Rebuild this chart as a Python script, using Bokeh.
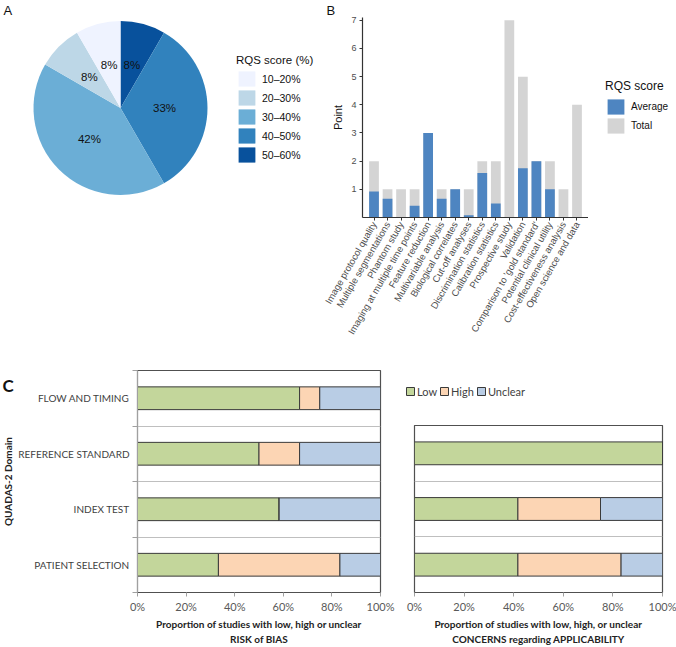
import math
from bokeh.plotting import figure
from bokeh.layouts import column, row
from bokeh.models import (Range1d, FactorRange, Legend, LegendItem, Label, Title,
                          FixedTicker, PrintfTickFormatter, ColumnDataSource)
from bokeh.core.properties import value
from bokeh.embed import file_html
from bokeh.resources import INLINE

# ---------------- data ----------------
# Panel A: distribution of RQS score (%), number of studies per bin
rqs_bins = ["10–20%", "20–30%", "30–40%", "40–50%", "50–60%"]
rqs_counts = [1, 1, 5, 4, 1]
rqs_colors = ["#EFF3FF", "#BDD7E7", "#6BAED6", "#3182BD", "#08519C"]

# Panel B: RQS items, average points vs total points
rqs_items = ["Image protocol quality", "Multiple segmentations", "Phantom study",
             "Imaging at multiple time points", "Feature reduction",
             "Multivariable analysis", "Biological correlates", "Cut-off analyses",
             "Discrimination statistics", "Calibration statistics", "Prospective study",
             "Validation", "Comparison to 'gold standard'", "Potential clinical utility",
             "Cost-effectiveness analysis", "Open science and data"]
rqs_average = [0.92, 0.67, 0.0, 0.42, 3.0, 0.67, 1.0, 0.08, 1.58, 0.5, 0.0,
               1.75, 2.0, 1.0, 0.0, 0.0]
rqs_total = [2, 1, 1, 1, 3, 1, 1, 1, 2, 2, 7, 5, 2, 2, 1, 4]
rqs_series = ["Average", "Total"]
rqs_series_colors = ["#4E85C1", "#D4D4D4"]
point_ticks = [1, 2, 3, 4, 5, 6, 7]

# Panel C: QUADAS-2 (percent of studies)
bias_domains = ["PATIENT SELECTION", "INDEX TEST", "REFERENCE STANDARD", "FLOW AND TIMING"]
bias_low = [33.3, 58.3, 50.0, 66.7]
bias_high = [50.0, 0.0, 16.7, 8.3]
bias_unclear = [16.7, 41.7, 33.3, 25.0]

appl_domains = ["PATIENT SELECTION", "INDEX TEST", "REFERENCE STANDARD"]
appl_low = [41.7, 41.7, 100.0]
appl_high = [41.6, 33.3, 0.0]
appl_unclear = [16.7, 25.0, 0.0]

quadas_levels = ["Low", "High", "Unclear"]
quadas_colors = ["#C3D69B", "#FCD5B4", "#B9CDE5"]
pct_ticks = [0, 20, 40, 60, 80, 100]

SANS = "Liberation Sans"
CAL = "Lato"
NAN = float("nan")
COMMON = dict(output_backend="svg", toolbar_location=None, frame_align=False)
NOBORDER = dict(min_border_left=0, min_border_right=0, min_border_top=0, min_border_bottom=0)

TOP_H = 345
BOT_H = 300


def blank(width, height):
    """A figure whose frame is the whole canvas, 1 data unit = 1 px."""
    p = figure(width=width, height=height, x_range=Range1d(0, width), y_range=Range1d(0, height),
               x_axis_location=None, y_axis_location=None, **NOBORDER, **COMMON)
    p.grid.visible = False
    p.outline_line_color = None
    return p


# ---------------- Panel A: pie (1 unit = 1 px, centred on the pie) ----------------
pA = figure(width=320, height=TOP_H, x_range=Range1d(-120, 200),
            y_range=Range1d(-(TOP_H - 107.5), 107.5),
            x_axis_location=None, y_axis_location=None, **NOBORDER, **COMMON)
pA.grid.visible = False
pA.outline_line_color = None

R, LR = 87, 44
n = sum(rqs_counts)
order = list(range(len(rqs_bins)))[::-1]
st, en, cols, labs, lx, ly = [], [], [], [], [], []
cum = 0.0
for i in order:
    f = rqs_counts[i] / n
    a0 = math.pi / 2 - 2 * math.pi * cum
    a1 = math.pi / 2 - 2 * math.pi * (cum + f)
    mid = (a0 + a1) / 2
    st.append(a0); en.append(a1); cols.append(rqs_colors[i])
    labs.append(f"{round(100 * f)}%")
    lx.append(LR * math.cos(mid)); ly.append(LR * math.sin(mid))
    cum += f
srcA = ColumnDataSource(dict(start=st, end=en, color=cols, lab=labs, lx=lx, ly=ly))
wr = pA.wedge(x=0, y=0, radius=R, start_angle="start", end_angle="end", direction="clock",
              fill_color="color", line_color=None, source=srcA)
pA.text(x="lx", y="ly", text="lab", source=srcA, text_font=value(SANS),
        text_font_size="11.5px", text_align="center", text_baseline="middle",
        text_color="#111111")
legA = Legend(items=[LegendItem(label=rqs_bins[i], renderers=[wr], index=order.index(i))
                     for i in range(len(rqs_bins))],
              location=(236, TOP_H - 164), title="RQS score (%)",
              title_text_font=SANS, title_text_font_size="11.5px", title_text_font_style="normal",
              title_text_color="#111111", title_standoff=3,
              label_text_font=SANS, label_text_font_size="10.5px", label_text_color="#111111",
              glyph_width=21, glyph_height=19, label_height=19, spacing=0, label_standoff=5,
              padding=0, margin=0, border_line_color=None, background_fill_alpha=0)
pA.add_layout(legA, "center")
pA.add_layout(Label(x=-117, y=105, text="A", text_font=SANS, text_font_size="13px",
                    text_baseline="top", text_align="left", text_color="#111111"))

# ---------------- Panel B: bars ----------------
pB = figure(width=268, height=TOP_H,
            x_range=FactorRange(factors=rqs_items, range_padding=0.35, range_padding_units="absolute"),
            y_range=Range1d(0, 7.1),
            min_border_left=42, min_border_right=0, min_border_top=16,
            min_border_bottom=TOP_H - 217, **COMMON)
pB.add_layout(Title(text="B", align="left", offset=-36, standoff=0, text_font=SANS,
                    text_font_size="13px", text_font_style="normal", text_color="#111111"),
              "above")
pB.grid.visible = False
pB.outline_line_color = None
srcB = ColumnDataSource(dict(item=rqs_items, Average=rqs_average, Total=rqs_total))
pB.vbar(x="item", top="Total", width=0.72, fill_color=rqs_series_colors[1], line_color=None, source=srcB)
pB.vbar(x="item", top="Average", width=0.72, fill_color=rqs_series_colors[0], line_color=None, source=srcB)
pB.yaxis.ticker = FixedTicker(ticks=point_ticks)
pB.yaxis.axis_label = "Point"
pB.yaxis.axis_label_text_font = SANS
pB.yaxis.axis_label_text_font_size = "11px"
pB.yaxis.axis_label_text_font_style = "normal"
pB.yaxis.axis_label_text_color = "#111111"
pB.yaxis.axis_label_standoff = 4
for ax in (pB.xaxis, pB.yaxis):
    ax.axis_line_color = "#333333"
    ax.axis_line_width = 1.2
    ax.major_tick_line_color = "#333333"
    ax.major_tick_out = 3
    ax.major_tick_in = 0
    ax.minor_tick_line_color = None
    ax.major_label_text_font = SANS
    ax.major_label_text_color = "#4D4D4D"
pB.yaxis.major_label_text_font_size = "9px"
pB.yaxis.major_label_standoff = 3
pB.xaxis.major_label_text_font_size = "9.5px"
pB.xaxis.major_label_orientation = math.pi / 3
pB.xaxis.major_label_standoff = 2

# legend strip for panel B (legend glyphs only; NaN data draws nothing)
pLB = blank(88, TOP_H)
legB_r = [pLB.vbar(x=[NAN], top=[NAN], width=1, fill_color=c, line_color=None)
          for c in rqs_series_colors]
legB = Legend(items=[LegendItem(label=s, renderers=[r]) for s, r in zip(rqs_series, legB_r)],
              location=(17, TOP_H - 135), title="RQS score",
              title_text_font=SANS, title_text_font_size="12px", title_text_font_style="normal",
              title_text_color="#111111", title_standoff=4,
              label_text_font=SANS, label_text_font_size="10px", label_text_color="#111111",
              glyph_width=21, glyph_height=19, label_height=19, spacing=0, label_standoff=5,
              padding=0, margin=0, border_line_color=None, background_fill_alpha=0)
pLB.add_layout(legB, "center")

# ---------------- Panel C: QUADAS-2 ----------------
title_kw = dict(text_font=CAL, text_font_size="10px", text_font_style="bold",
                text_color="#222222", align="center", standoff=1)


def quadas(domains, low, high, unclear, width, height, border_left, border_right, border_top,
           frame_h, show_labels, titles, title_offset):
    ncat = len(domains)
    p = figure(width=width, height=height, x_range=Range1d(0, 100), y_range=Range1d(0, ncat),
               min_border_left=border_left, min_border_right=border_right,
               min_border_top=border_top, min_border_bottom=height - border_top - frame_h,
               **COMMON)
    centers = [k + 0.5 for k in range(ncat)]
    src = ColumnDataSource(dict(y=centers, Low=low, High=high, Unclear=unclear))
    p.hbar_stack(quadas_levels, y="y", height=0.41, fill_color=quadas_colors,
                 line_color="#3A3A3A", line_width=1, source=src)
    tick = FixedTicker(ticks=centers, minor_ticks=list(range(ncat + 1)))
    p.xgrid.visible = False
    p.ygrid.ticker = tick
    p.ygrid.grid_line_color = None
    p.ygrid.minor_grid_line_color = "#BFBFBF"
    p.ygrid.minor_grid_line_width = 1.2
    p.outline_line_color = "#505050"
    p.outline_line_width = 1.2
    xa = p.xaxis[0]
    xa.ticker = FixedTicker(ticks=pct_ticks)
    xa.formatter = PrintfTickFormatter(format="%d%%")
    xa.axis_line_color = "#505050"
    xa.axis_line_width = 1.2
    xa.major_tick_line_color = "#A0A0A0"
    xa.major_tick_out = 4
    xa.major_tick_in = 0
    xa.minor_tick_line_color = None
    xa.major_label_standoff = 3
    xa.major_label_text_font = CAL
    xa.major_label_text_font_size = "11px"
    xa.major_label_text_color = "#595959"
    ya = p.yaxis[0]
    if show_labels:
        ya.ticker = tick
        ya.major_label_overrides = {c: d for c, d in zip(centers, domains)}
        ya.axis_line_color = "#A0A0A0"
        ya.major_tick_line_color = None
        ya.major_tick_out = 5
        ya.minor_tick_line_color = "#A0A0A0"
        ya.minor_tick_out = 5
        ya.minor_tick_in = 0
        ya.major_label_standoff = 3
        ya.major_label_text_font = CAL
        ya.major_label_text_font_size = "10px"
        ya.major_label_text_color = "#3F3F3F"
    else:
        ya.visible = False
    for t in titles:
        p.add_layout(Title(text=t, offset=title_offset, **title_kw), "below")
    return p


pC1 = quadas(bias_domains, bias_low, bias_high, bias_unclear, 383, BOT_H, 117, 18, 25, 223, True,
             ["Proportion of studies with low, high or unclear", "RISK of BIAS"], -7)
pC2 = quadas(appl_domains, appl_low, appl_high, appl_unclear, 278, BOT_H - 80, 16, 14, 0, 168, False,
             ["Proportion of studies with low, high, or unclear",
              "CONCERNS regarding APPLICABILITY"], 3)

# legend strip above the applicability chart (legend glyphs only; NaN data draws nothing)
pLC = blank(278, 80)
legC_r = [pLC.hbar(y=[NAN], right=[NAN], height=1, fill_color=c, line_color="#3A3A3A", line_width=1)
          for c in quadas_colors]
legC = Legend(items=[LegendItem(label=lv, renderers=[r]) for lv, r in zip(quadas_levels, legC_r)],
              location=(7, 27), orientation="horizontal",
              label_text_font=CAL, label_text_font_size="11px", label_text_color="#3F3F3F",
              glyph_width=10, glyph_height=10, label_height=14, spacing=2, label_standoff=2,
              padding=0, margin=0, border_line_color=None, background_fill_alpha=0)
pLC.add_layout(legC, "center")

# narrow text strip left of panel C
pCt = blank(15, BOT_H)
pCt.add_layout(Label(x=2, y=BOT_H - 29, text="C", text_font=CAL, text_font_size="17px",
                     text_font_style="bold", text_color="#111111",
                     text_align="left", text_baseline="top"))
pCt.add_layout(Label(x=7, y=BOT_H - 136, text="QUADAS-2 Domain", angle=math.pi / 2,
                     text_font=CAL, text_font_size="10px", text_font_style="bold",
                     text_color="#222222", text_align="center", text_baseline="middle"))

layout = column(row(pA, pB, pLB), row(pCt, pC1, column(pLC, pC2)))
open("out.html", "w").write(file_html(layout, INLINE))
